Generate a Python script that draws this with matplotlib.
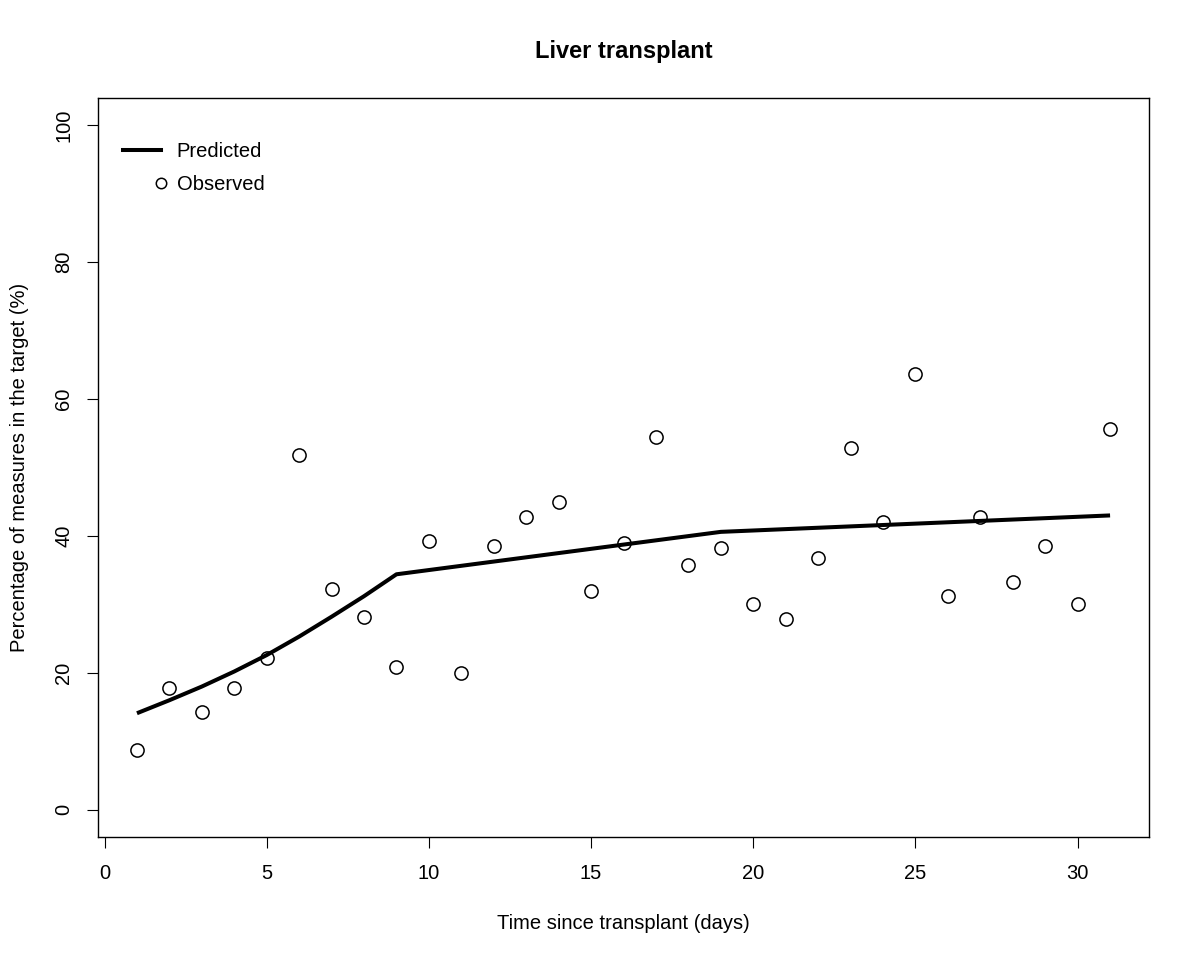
import matplotlib.pyplot as plt
from matplotlib.legend_handler import HandlerLine2D
from matplotlib.lines import Line2D

plt.rcParams["font.family"] = ["Liberation Sans", "DejaVu Sans"]

# observed daily percentages
obs_days = list(range(1, 32))
obs_pct = [8.8, 17.8, 14.3, 17.8, 22.2, 51.9, 32.2, 28.1, 20.9, 39.2,
           20.0, 38.5, 42.8, 45.0, 31.9, 38.9, 54.5, 35.7, 38.2, 30.1,
           27.8, 36.8, 52.9, 42.1, 63.7, 31.3, 42.8, 33.3, 38.5, 30.1,
           55.6]

# predicted curve vertices
pred_days = [1, 2, 3, 4, 5, 6, 7, 8, 9, 19, 31]
pred_pct = [14.1, 16.0, 18.0, 20.2, 22.6, 25.3, 28.2, 31.2, 34.4, 40.6, 43.0]

x_ticks = [0, 5, 10, 15, 20, 25, 30]
y_ticks = [0, 20, 40, 60, 80, 100]

fs = 14.5


class MarkerAtEnd(HandlerLine2D):
    # R-style legend: the point sits at the right end of the key
    def get_xdata(self, legend, xdescent, ydescent, width, height, fontsize):
        x_end = -xdescent + width
        return [x_end, x_end], [x_end]


fig = plt.figure(figsize=(12, 9.6), dpi=100)
ax = fig.add_axes([0.0817, 0.128, 0.8758, 0.770])

ax.plot(obs_days, obs_pct, "o", mfc="none", mec="black", mew=1.1, ms=9.5)
ax.plot(pred_days, pred_pct, color="black", lw=2.9, solid_capstyle="butt")

ax.set_xlim(-0.2, 32.2)
ax.set_ylim(-4, 104)
ax.set_xticks(x_ticks)
ax.set_yticks(y_ticks)
ax.set_yticklabels([str(v) for v in y_ticks], rotation=90, va="center")
ax.tick_params(direction="out", length=8, width=0.8, labelsize=fs)
ax.tick_params(axis="x", pad=11)
ax.tick_params(axis="y", pad=10)
for s in ax.spines.values():
    s.set_linewidth(1.0)

ax.set_xlabel("Time since transplant (days)", fontsize=fs, labelpad=23)
ax.set_ylabel("Percentage of measures in the target (%)", fontsize=fs, labelpad=18)
ax.set_title("Liver transplant", fontsize=17, fontweight="bold", pad=29)

pred_handle = Line2D([], [], color="black", lw=2.9)
obs_handle = Line2D([], [], ls="none", marker="o", mfc="none", mec="black",
                    mew=1.1, ms=7.5)
ax.legend([pred_handle, obs_handle], ["Predicted", "Observed"],
          handler_map={obs_handle: MarkerAtEnd(numpoints=1)},
          loc="upper left", frameon=False, fontsize=fs, numpoints=1,
          handlelength=1.9, handletextpad=0.75, borderaxespad=0.85,
          borderpad=0.4, labelspacing=0.7, bbox_to_anchor=(0.0, 0.974))

fig.savefig("out.png", dpi=100)
plt.close()
